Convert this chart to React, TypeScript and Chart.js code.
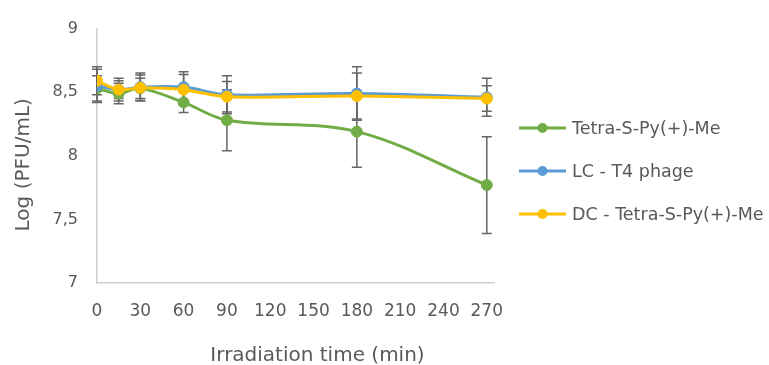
import React, { useEffect, useRef } from "react";
import { Chart, registerables } from "chart.js";

Chart.register(...registerables);

const times = [0, 15, 30, 60, 90, 180, 270];
const seriesLabels = ["Tetra-S-Py(+)-Me", "LC - T4 phage", "DC - Tetra-S-Py(+)-Me"];
const tetraValues = [8.53, 8.49, 8.53, 8.42, 8.28, 8.19, 7.77];
const tetraErrors = [0.1, 0.08, 0.08, 0.08, 0.24, 0.28, 0.38];
const lcValues = [8.55, 8.52, 8.54, 8.54, 8.48, 8.49, 8.46];
const lcErrors = [0.13, 0.07, 0.11, 0.12, 0.15, 0.21, 0.15];
const dcValues = [8.59, 8.52, 8.535, 8.52, 8.465, 8.47, 8.45];
const dcErrors = [0.11, 0.09, 0.1, 0.12, 0.12, 0.18, 0.1];
const xTicks = [0, 30, 60, 90, 120, 150, 180, 210, 240, 270];
const yTicks = [7, 7.5, 8, 8.5, 9];
const xTitle = "Irradiation time (min)";
const yTitle = "Log (PFU/mL)";

const colors = ["#70AD47", "#5B9BD5", "#FFC000"];
const valueSets = [tetraValues, lcValues, dcValues];
const errorSets = [tetraErrors, lcErrors, dcErrors];
const TEXT = "#595959";
const FONT = "'DejaVu Sans'";

const errorBarPlugin = {
  id: "errorBars",
  beforeDatasetsDraw(chart: any) {
    const ctx = chart.ctx;
    const xs = chart.scales.x;
    const ys = chart.scales.y;
    ctx.save();
    ctx.strokeStyle = "#666666";
    ctx.lineWidth = 1.5;
    chart.data.datasets.forEach((ds: any, i: number) => {
      const errs = errorSets[i];
      ds.data.forEach((pt: any, j: number) => {
        const px = xs.getPixelForValue(pt.x);
        const top = ys.getPixelForValue(pt.y + errs[j]);
        const bot = ys.getPixelForValue(pt.y - errs[j]);
        ctx.beginPath();
        ctx.moveTo(px, top);
        ctx.lineTo(px, bot);
        ctx.moveTo(px - 5, top);
        ctx.lineTo(px + 5, top);
        ctx.moveTo(px - 5, bot);
        ctx.lineTo(px + 5, bot);
        ctx.stroke();
      });
    });
    ctx.restore();
  },
};

const decorPlugin = {
  id: "decor",
  afterDraw(chart: any) {
    const ctx = chart.ctx;
    const area = chart.chartArea;
    ctx.save();
    ctx.fillStyle = TEXT;
    ctx.font = `20px ${FONT}`;
    ctx.textAlign = "center";
    ctx.textBaseline = "middle";
    ctx.fillText(xTitle, area.left + (area.right - area.left) / 2 + 22, 356);
    ctx.save();
    ctx.translate(24, (area.top + area.bottom) / 2 + 9);
    ctx.rotate(-Math.PI / 2);
    ctx.fillText(yTitle, 0, 0);
    ctx.restore();
    ctx.font = `17.5px ${FONT}`;
    ctx.textAlign = "left";
    const lx = area.right + 25;
    chart.data.datasets.forEach((ds: any, i: number) => {
      const cy = 128 + i * 43;
      ctx.strokeStyle = ds.borderColor;
      ctx.lineWidth = 3;
      ctx.beginPath();
      ctx.moveTo(lx, cy);
      ctx.lineTo(lx + 47, cy);
      ctx.stroke();
      ctx.fillStyle = ds.borderColor;
      ctx.beginPath();
      ctx.arc(lx + 23.5, cy, 5, 0, Math.PI * 2);
      ctx.fill();
      ctx.fillStyle = TEXT;
      ctx.fillText(ds.label, lx + 53, cy + 1);
    });
    ctx.restore();
  },
};

export default function App() {
  const ref = useRef<HTMLCanvasElement>(null);
  useEffect(() => {
    document.body.style.margin = "0";
    const canvas = ref.current!;
    const datasets = seriesLabels.map((label, i) => ({
      label,
      data: times.map((t, j) => ({ x: t, y: valueSets[i][j] })),
      borderColor: colors[i],
      backgroundColor: colors[i],
      pointBackgroundColor: colors[i],
      pointBorderColor: colors[i],
      borderWidth: 3,
      pointRadius: 5.5,
      pointBorderWidth: 1,
      tension: 0.35,
      fill: false,
      order: 2 - i,
    }));
    const chart = new Chart(canvas, {
      type: "line",
      data: { datasets },
      options: {
        animation: false,
        responsive: false,
        layout: { padding: { left: 0, right: 275, top: 25, bottom: 0 } },
        plugins: { legend: { display: false }, tooltip: { enabled: false } },
        scales: {
          x: {
            type: "linear",
            min: 0,
            max: 275,
            afterBuildTicks: (s: any) => {
              s.ticks = xTicks.map((v) => ({ value: v }));
            },
            afterFit: (s: any) => {
              s.height = 82;
            },
            grid: { color: "rgba(0,0,0,0)", drawTicks: false },
            border: { display: true, color: "#d0d0d0", width: 1.5 },
            ticks: {
              color: TEXT,
              font: { family: FONT, size: 17 },
              padding: 18,
              maxRotation: 0,
              autoSkip: false,
            },
          },
          y: {
            type: "linear",
            min: 7,
            max: 9,
            afterBuildTicks: (s: any) => {
              s.ticks = yTicks.map((v) => ({ value: v }));
            },
            afterFit: (s: any) => {
              s.width = 97;
            },
            grid: { color: "rgba(0,0,0,0)", drawTicks: false },
            border: { display: true, color: "#d0d0d0", width: 1.5 },
            ticks: {
              color: TEXT,
              font: { family: FONT, size: 16 },
              padding: 19,
              callback: (v: any) => String(v).replace(".", ","),
            },
          },
        },
      },
      plugins: [errorBarPlugin, decorPlugin],
    } as any);
    return () => chart.destroy();
  }, []);
  return (
    <div style={{ width: 769, height: 365 }}>
      <canvas ref={ref} width={769} height={365} style={{ display: "block" }} />
    </div>
  );
}
